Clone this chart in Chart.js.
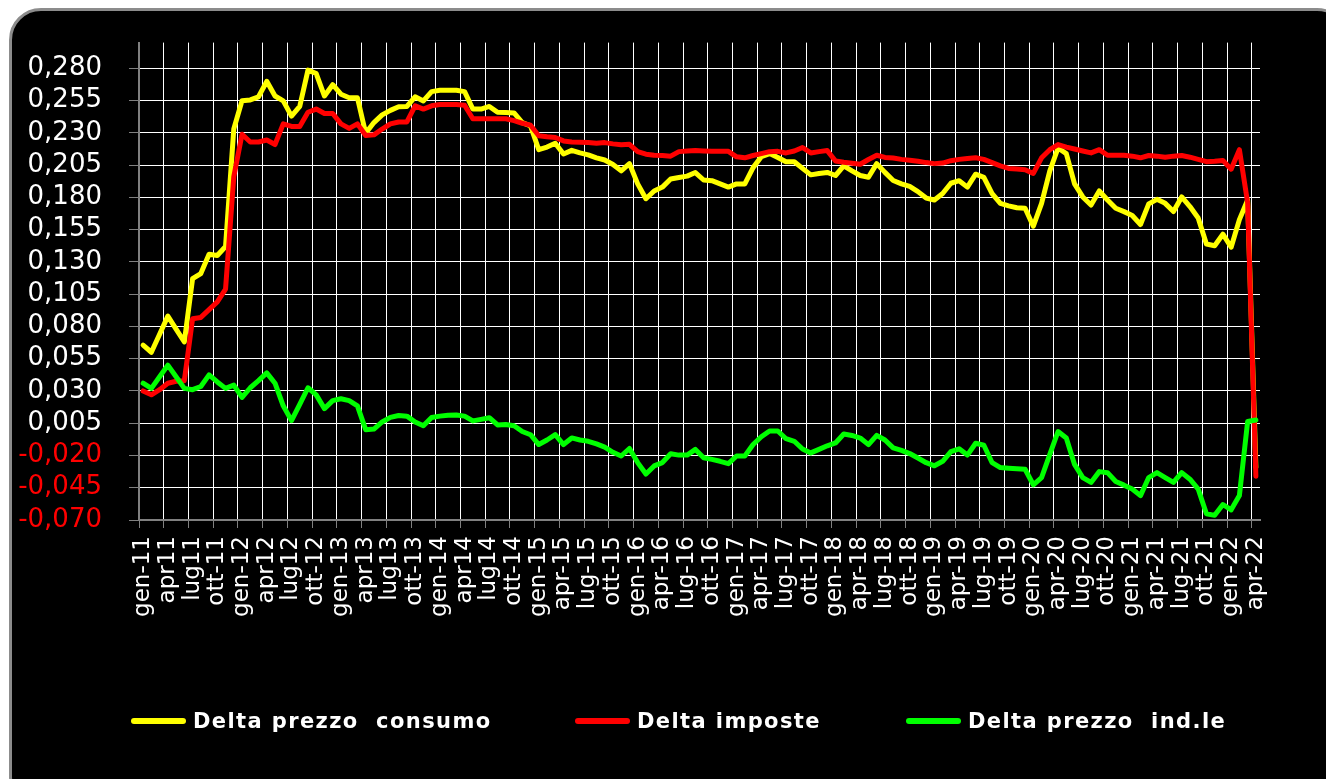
<!DOCTYPE html>
<html lang="it">
<head>
<meta charset="utf-8">
<title>Delta prezzi</title>
<script src="https://cdn.jsdelivr.net/npm/chart.js@4.4.1/dist/chart.umd.min.js"></script>
<style>
  html, body { margin: 0; padding: 0; background: #fff; }
  body { width: 1326px; height: 779px; position: relative; overflow: hidden; }
  .frame {
    position: absolute; left: 9px; top: 8px; width: 1340px; height: 800px;
    box-sizing: border-box; background: #000;
    border: 3px solid #8c8c8c; border-radius: 32px;
  }
  #chart { position: absolute; left: 0; top: 0; }
  .legend-item {
    position: absolute; top: 706px; height: 30px;
    display: flex; align-items: center;
    font-family: "DejaVu Sans", sans-serif; font-weight: bold; font-size: 21px;
    letter-spacing: 1.4px; color: #fff; white-space: pre;
  }
  .legend-item .swatch { width: 55px; height: 6px; border-radius: 3px; margin-right: 7px; }
</style>
</head>
<body>
<div class="frame"></div>
<canvas id="chart" width="1326" height="779"></canvas>
<div id="legend"></div>
<script>
// months / years of the series (gen-11 .. apr-22)
const months = ['gen', 'feb', 'mar', 'apr', 'mag', 'giu', 'lug', 'ago', 'set', 'ott', 'nov', 'dic']
const years = [11, 12, 13, 14, 15, 16, 17, 18, 19, 20, 21, 22]
const categories = []
years.forEach(y => months.forEach(m => { if (categories.length < 136) categories.push(m + '-' + y) }))

// labels shown every 3 months, as printed on the chart
const tickLabels = [
  'gen-11', 'apr11', 'lug11', 'ott-11', 'gen-12', 'apr12', 'lug12', 'ott-12',
  'gen-13', 'apr13', 'lug13', 'ott-13', 'gen-14', 'apr14', 'lug14', 'ott-14',
  'gen-15', 'apr-15', 'lug-15', 'ott-15', 'gen-16', 'apr-16', 'lug-16', 'ott-16',
  'gen-17', 'apr-17', 'lug-17', 'ott-17', 'gen-18', 'apr-18', 'lug-18', 'ott-18',
  'gen-19', 'apr-19', 'lug-19', 'ott-19', 'gen-20', 'apr-20', 'lug-20', 'ott-20',
  'gen-21', 'apr-21', 'lug-21', 'ott-21', 'gen-22', 'apr-22'
]

const yTicks = [-0.070, -0.045, -0.020, 0.005, 0.030, 0.055, 0.080, 0.105, 0.130,
  0.155, 0.180, 0.205, 0.230, 0.255, 0.280]

const seriesNames = ['Delta prezzo  consumo', 'Delta imposte', 'Delta prezzo  ind.le']

// one row per year
const prezzoConsumo = [
  0.0655, 0.060, 0.074, 0.088, 0.078, 0.068, 0.117, 0.121, 0.136, 0.135, 0.142, 0.233,
  0.255, 0.2556, 0.258, 0.270, 0.2586, 0.2548, 0.243, 0.2505, 0.2787, 0.276, 0.2586, 0.2674,
  0.260, 0.2573, 0.2573, 0.2297, 0.238, 0.244, 0.2475, 0.2503, 0.2505, 0.258, 0.2548, 0.262,
  0.263, 0.263, 0.263, 0.262, 0.2485, 0.2485, 0.2505, 0.246, 0.2458, 0.2455, 0.238, 0.2355,
  0.217, 0.219, 0.222, 0.2137, 0.2165, 0.2145, 0.213, 0.2107, 0.209, 0.2055, 0.2006, 0.2062,
  0.1905, 0.179, 0.185, 0.188, 0.1943, 0.1955, 0.1965, 0.1993, 0.1935, 0.193, 0.1905, 0.188,
  0.1905, 0.1905, 0.2031, 0.2115, 0.214, 0.211, 0.2077, 0.2077, 0.2025, 0.1975, 0.1986, 0.1994,
  0.197, 0.2044, 0.2006, 0.197, 0.1956, 0.2062, 0.1994, 0.1931, 0.1905, 0.1885, 0.1845, 0.1795,
  0.178, 0.183, 0.191, 0.193, 0.188, 0.198, 0.1956, 0.183, 0.1754, 0.1735, 0.172, 0.1716,
  0.1577, 0.1754, 0.2006, 0.2183, 0.214, 0.1905, 0.1804, 0.1741, 0.185, 0.178, 0.1716, 0.169,
  0.166, 0.159, 0.175, 0.1785, 0.1754, 0.1691, 0.1804, 0.1729, 0.1641, 0.1439, 0.1426, 0.1515,
  0.1414, 0.1628, 0.178, -0.029
]

const imposte = [
  0.030, 0.027, 0.031, 0.036, 0.0375, 0.038, 0.086, 0.087, 0.093, 0.099, 0.109, 0.196,
  0.229, 0.223, 0.223, 0.2245, 0.221, 0.237, 0.235, 0.235, 0.246, 0.2485, 0.245, 0.245,
  0.237, 0.2335, 0.237, 0.228, 0.2285, 0.233, 0.237, 0.2385, 0.2385, 0.251, 0.2485, 0.251,
  0.252, 0.252, 0.252, 0.2515, 0.241, 0.241, 0.241, 0.241, 0.241, 0.2395, 0.2375, 0.236,
  0.2278, 0.227, 0.2265, 0.2238, 0.223, 0.2228, 0.2225, 0.222, 0.2225, 0.2215, 0.2208, 0.2212,
  0.2155, 0.2135, 0.2127, 0.2125, 0.212, 0.2155, 0.216, 0.2163, 0.216, 0.2157, 0.2157, 0.2157,
  0.2115, 0.2107, 0.2125, 0.214, 0.2155, 0.2157, 0.2145, 0.216, 0.2187, 0.2145, 0.2155, 0.2163,
  0.2082, 0.2072, 0.2065, 0.2057, 0.2094, 0.2127, 0.211, 0.2105, 0.2095, 0.2088, 0.208, 0.207,
  0.2062, 0.2066, 0.2085, 0.2095, 0.2102, 0.2107, 0.2095, 0.207, 0.2045, 0.2025, 0.202, 0.2015,
  0.1986, 0.2107, 0.217, 0.221, 0.219, 0.2175, 0.216, 0.2145, 0.217, 0.2127, 0.2127, 0.2127,
  0.212, 0.2107, 0.2125, 0.212, 0.2112, 0.212, 0.2125, 0.2112, 0.2095, 0.2077, 0.208, 0.2087,
  0.2019, 0.217, 0.176, -0.036
]

const prezzoIndustriale = [
  0.036, 0.032, 0.041, 0.050, 0.041, 0.032, 0.031, 0.0335, 0.0425, 0.037, 0.032, 0.0345,
  0.025, 0.0325, 0.038, 0.044, 0.036, 0.0185, 0.007, 0.0197, 0.0325, 0.027, 0.0163, 0.0225,
  0.024, 0.0225, 0.0185, 0.000, 0.0005, 0.006, 0.0095, 0.011, 0.0105, 0.006, 0.003, 0.0095,
  0.0105, 0.0112, 0.0114, 0.0105, 0.0068, 0.008, 0.0093, 0.0037, 0.004, 0.003, -0.0014, -0.0039,
  -0.0115, -0.008, -0.0039, -0.0115, -0.0064, -0.008, -0.009, -0.011, -0.0135, -0.0175, -0.0204, -0.0146,
  -0.0255, -0.0344, -0.0281, -0.0255, -0.0187, -0.0197, -0.0197, -0.0153, -0.0217, -0.023, -0.0245, -0.0263,
  -0.0204, -0.0204, -0.0115, -0.0055, -0.001, -0.001, -0.007, -0.009, -0.015, -0.018, -0.0153, -0.0125,
  -0.0103, -0.0034, -0.0045, -0.0065, -0.0116, -0.0044, -0.008, -0.0141, -0.016, -0.0185, -0.022, -0.0256,
  -0.028, -0.0245, -0.017, -0.0148, -0.0197, -0.0105, -0.0121, -0.0256, -0.0294, -0.0299, -0.0303, -0.0307,
  -0.0427, -0.0371, -0.0192, -0.0014, -0.0065, -0.0269, -0.0371, -0.0409, -0.0325, -0.0333, -0.0402, -0.043,
  -0.046, -0.0511, -0.0371, -0.0333, -0.0371, -0.0409, -0.0333, -0.0384, -0.046, -0.0652, -0.0664, -0.058,
  -0.0621, -0.0511, 0.0063, 0.0075
]

const colors = ['#ffff00', '#ff0000', '#00ff00']
const axisGray = '#808080'

const lineStyle = {
  borderWidth: 5,
  pointRadius: 0,
  tension: 0,
  borderJoinStyle: 'round',
  borderCapStyle: 'round',
  fill: false
}

const datasets = [prezzoConsumo, imposte, prezzoIndustriale].map((data, i) => ({
  ...lineStyle,
  label: seriesNames[i],
  data: data,
  borderColor: colors[i],
  backgroundColor: colors[i],
  order: 3 - i
}))

const every3 = (ctx, on) => (ctx.index % 3 === 0 ? on : 'rgba(0,0,0,0)')

new Chart(document.getElementById('chart').getContext('2d'), {
  type: 'line',
  data: { labels: categories, datasets: datasets },
  options: {
    responsive: false,
    devicePixelRatio: 1,
    animation: false,
    layout: { padding: { left: 0, top: 32, right: 66, bottom: 0 } },
    plugins: { legend: { display: false }, tooltip: { enabled: false } },
    scales: {
      x: {
        type: 'category',
        offset: true,
        afterFit: scale => { scale.height = 259 },
        grid: {
          offset: true,
          color: ctx => every3(ctx, '#ffffff'),
          lineWidth: 1,
          tickLength: 8,
          tickColor: ctx => every3(ctx, axisGray)
        },
        border: { color: axisGray, width: 2 },
        ticks: {
          autoSkip: false,
          maxRotation: 90,
          minRotation: 90,
          padding: 8,
          color: '#ffffff',
          font: { family: 'DejaVu Sans', size: 23 },
          callback: (v, i) => (i % 3 === 0 ? tickLabels[i / 3] : '')
        }
      },
      y: {
        min: -0.07,
        max: 0.30,
        afterFit: scale => { scale.width = 139 },
        afterBuildTicks: scale => { scale.ticks = yTicks.map(v => ({ value: v })) },
        grid: { color: '#ffffff', lineWidth: 1, tickLength: 10, tickColor: axisGray },
        border: { color: axisGray, width: 2 },
        ticks: {
          autoSkip: false,
          padding: 27,
          font: { family: 'DejaVu Sans', size: 26 },
          color: ctx => (ctx.tick && ctx.tick.value < 0 ? '#ff0000' : '#ffffff'),
          callback: v => v.toFixed(3).replace('.', ',')
        }
      }
    }
  }
})

// legend, built from the series names
const legendLeft = [131, 575, 906]
const legend = document.getElementById('legend')
seriesNames.forEach((name, i) => {
  const item = document.createElement('div')
  item.className = 'legend-item'
  item.style.left = legendLeft[i] + 'px'
  const sw = document.createElement('span')
  sw.className = 'swatch'
  sw.style.background = colors[i]
  const txt = document.createElement('span')
  txt.textContent = name
  item.appendChild(sw)
  item.appendChild(txt)
  legend.appendChild(item)
})
</script>
</body>
</html>
